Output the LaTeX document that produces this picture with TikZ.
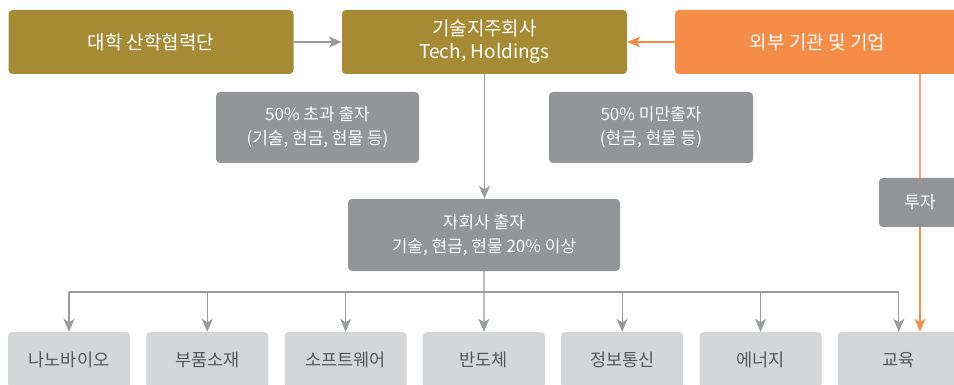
\documentclass[tikz,border=0pt]{standalone}
\usepackage{fontspec}
\setmainfont{Noto Sans CJK KR}
\usetikzlibrary{arrows.meta}
\definecolor{olive}{HTML}{A68A34}
\definecolor{orng}{HTML}{F58D48}
\definecolor{orngline}{HTML}{F9A66C}
\definecolor{darkbox}{HTML}{939598}
\definecolor{lightbox}{HTML}{D5D6D8}
\definecolor{boxtext}{HTML}{555659}
\definecolor{linegray}{HTML}{9A9B9E}
\begin{document}
\begin{tikzpicture}[x=1pt, y=-1pt,
    topbox/.style={rounded corners=4pt, text=white, minimum width=285pt, minimum height=64pt, align=center, font=\fontsize{19}{23}\selectfont},
    midbox/.style={rounded corners=4pt, fill=darkbox, text=white, align=center, font=\fontsize{17}{24}\selectfont},
    lowbox/.style={rounded corners=4pt, fill=lightbox, text=boxtext, minimum width=122pt, minimum height=56pt, font=\fontsize{17.5}{20}\selectfont},
    grayline/.style={draw=linegray, line width=1.2pt},
    graylink/.style={grayline, -{Stealth[length=13pt, width=11pt, inset=3.5pt]}},
    orngpath/.style={draw=orngline, line width=1.4pt},
    orngarrow/.style={orngpath, draw=orng, -{Stealth[length=13pt, width=11pt, inset=3.5pt]}}]
    \useasboundingbox (0,0) rectangle (954,385);
    \clip (0,0) rectangle (954,385);
    \node[topbox, fill=olive] (univ) at (151,42) {대학 산학협력단};
    \node[topbox, fill=olive] (holding) at (484.5,42) {기술지주회사\\Tech, Holdings};
    \node[topbox, fill=orng] (outside) at (817.5,42) {외부 기관 및 기업};
    \node[midbox, minimum width=203pt, minimum height=71pt] (over) at (317.5,127.5) {50\% 초과 출자\\(기술, 현금, 현물 등)};
    \node[midbox, minimum width=204pt, minimum height=71pt] (under) at (651,127.5) {50\% 미만출자\\(현금, 현물 등)};
    \node[midbox, minimum width=272pt, minimum height=72pt] (sub) at (484,235) {자회사 출자\\기술, 현금, 현물 20\% 이상};
    \node[midbox, minimum width=82pt, minimum height=49pt] (invest) at (920,202.5) {투자};
    \foreach \name/\txt [count=\i from 0] in {nano/나노바이오, parts/부품소재, soft/소프트웨어, semi/반도체, info/정보통신, energy/에너지, edu/교육}
        \node[lowbox] (\name) at (69+138.3*\i,360) {\txt};
    \coordinate (bus) at (0,292);
    \draw[graylink] (univ) -- (holding);
    \draw[orngarrow] (outside) -- (holding);
    \draw[graylink] (holding.south) -- (holding.south |- sub.north);
    \draw[graylink] (sub.south) -- (semi.north);
    \draw[grayline] (nano.north |- bus) -- (edu.north |- bus);
    \foreach \name in {nano, parts, soft, info, energy, edu}
        \draw[graylink] (\name.north |- bus) -- (\name.north);
    \draw[orngpath] (outside.south -| invest) -- (invest.north);
    \draw[orngarrow] (invest.south) -- (invest.south |- edu.north);
\end{tikzpicture}
\end{document}
